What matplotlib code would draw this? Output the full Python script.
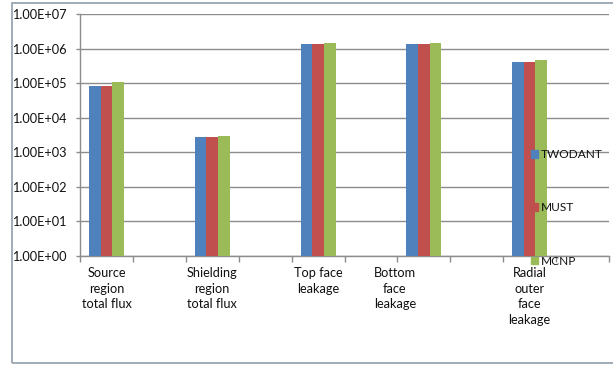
import matplotlib
matplotlib.use("Agg")
import matplotlib.pyplot as plt
import numpy as np
from matplotlib.patches import Rectangle

plt.rcParams['font.family'] = ['Lato', 'DejaVu Sans']

categories = ["Source\nregion\ntotal flux", "Shielding\nregion\ntotal flux",
              "Top face\nleakage", "Bottom\nface\nleakage", "Radial\nouter\nface\nleakage"]
series_names = ["TWODANT", "MUST", "MCNP"]
twodant = [8.2e4, 2.7e3, 1.33e6, 1.33e6, 4.0e5]
must = [8.1e4, 2.7e3, 1.33e6, 1.33e6, 4.0e5]
mcnp = [1.05e5, 3.05e3, 1.48e6, 1.48e6, 4.55e5]
ytick_values = [1e0, 1e1, 1e2, 1e3, 1e4, 1e5, 1e6, 1e7]

colors = ["#4F81BD", "#C0504D", "#9BBB59"]
grid_color = "#8c8c8c"
text_color = "#111111"

fig = plt.figure(figsize=(6.13, 3.65), dpi=100)
ax = fig.add_axes([80/613, 1-256/365, (609-80)/613, (256-14)/365])

n_slots = 10
cat_slots = np.arange(len(categories)) * 2  # data occupy every other category slot
bar_w = 0.22
for i, (vals, name, c) in enumerate(zip([twodant, must, mcnp], series_names, colors)):
    ax.bar(cat_slots + (i - 1) * bar_w, vals, width=bar_w, bottom=1, color=c,
           label=name, zorder=3)

ax.set_yscale('log')
ax.set_ylim(1, 1e7)
ax.set_xlim(-0.5, n_slots - 0.5)
ax.set_yticks(ytick_values)
ax.set_yticklabels([f"{v:.2E}" for v in ytick_values], fontsize=9.2, color=text_color)
ax.yaxis.set_minor_locator(matplotlib.ticker.NullLocator())
ax.set_xticks(np.arange(n_slots + 1) - 0.5)
ax.set_xticklabels([])
ax.tick_params(axis='x', direction='out', length=4, color=grid_color, width=1)
ax.tick_params(axis='y', direction='out', length=3, color=grid_color, width=1, pad=6.5)
ax.grid(axis='y', color=grid_color, lw=1, zorder=0)
for s in ['top', 'right']:
    ax.spines[s].set_visible(False)
for s in ['left', 'bottom']:
    ax.spines[s].set_color(grid_color)
    ax.spines[s].set_linewidth(1)

label_shift = [0, 0, 0, -0.55, 0]
for slot, lab, sh in zip(cat_slots, categories, label_shift):
    ax.text(slot + sh, -0.045, lab, transform=ax.get_xaxis_transform(),
            ha='center', va='top', fontsize=9.2, linespacing=1.38, color=text_color)

handles = [Rectangle((0, 0), 1, 1, color=c) for c in colors]
leg = fig.legend(handles, series_names, loc='upper left',
                 bbox_to_anchor=(531/613, 1-149/365), frameon=False,
                 fontsize=8.6, handlelength=0.6, handleheight=0.6,
                 handletextpad=0.2, labelspacing=3.55, borderpad=0,
                 borderaxespad=0)
for t in leg.get_texts():
    t.set_color(text_color)

# chart border
fig.patches.append(Rectangle((12/613, 1-363/365), 700/613, (363-3)/365,
                             transform=fig.transFigure, fill=False,
                             edgecolor='#9aa5b1', lw=1.3))

fig.savefig("out.png", dpi=100)
